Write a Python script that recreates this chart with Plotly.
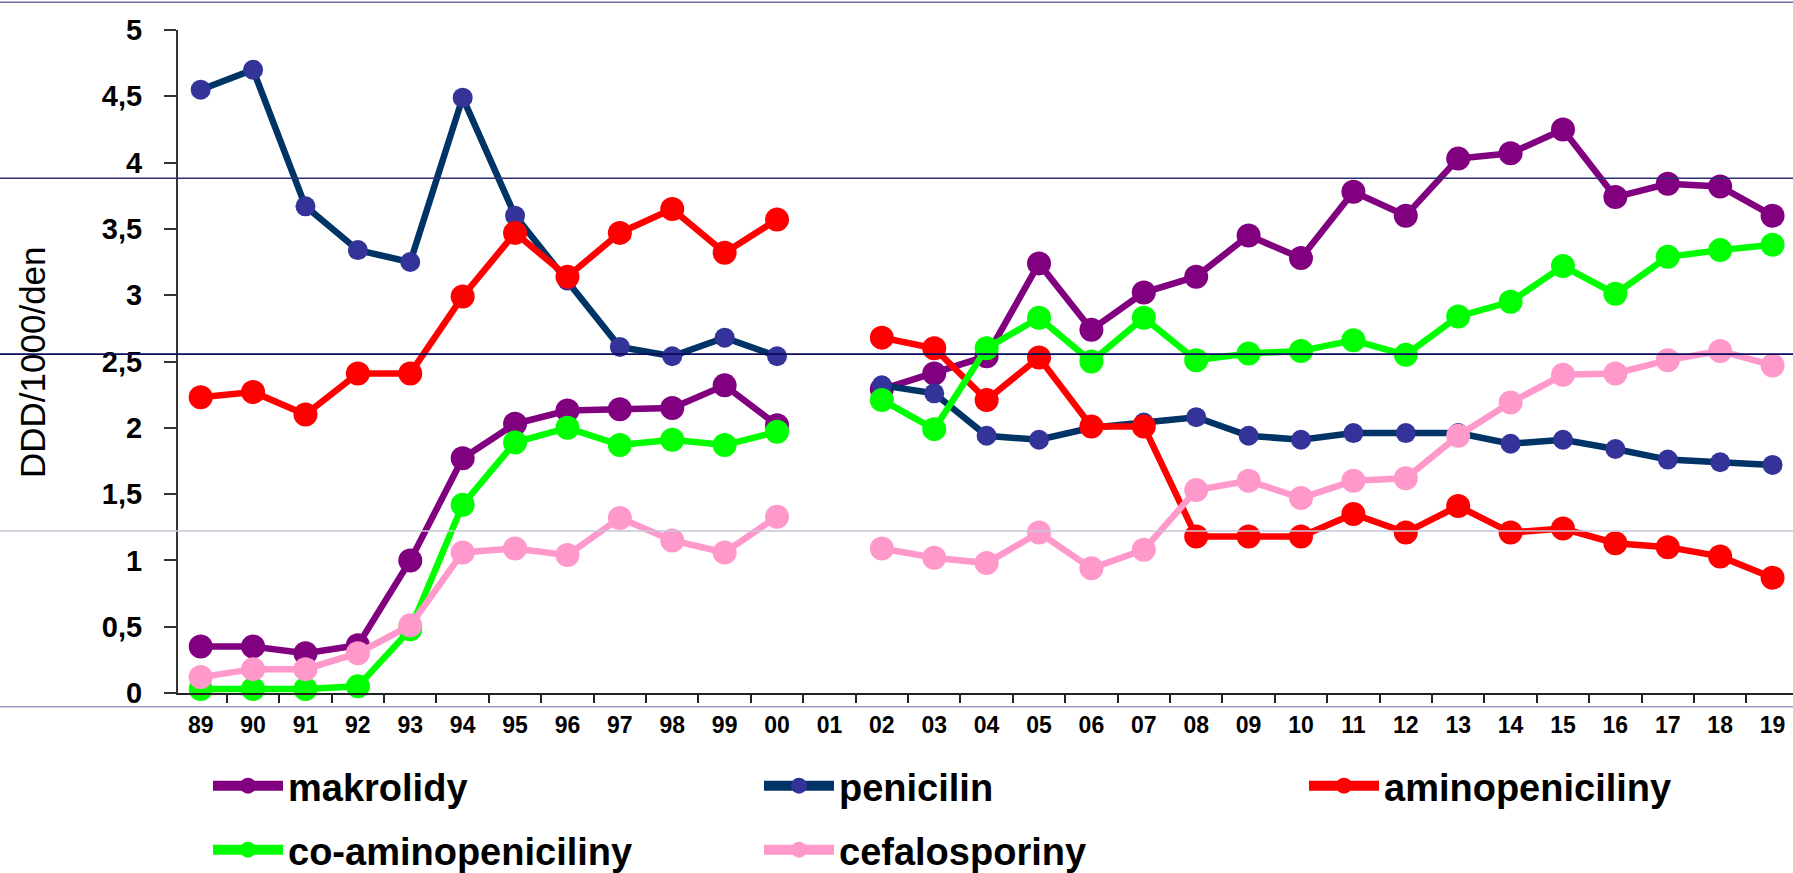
import plotly.graph_objects as go

# Years (two-digit labels); 2001 has no data
years = ["89", "90", "91", "92", "93", "94", "95", "96", "97", "98", "99", "00", "01",
         "02", "03", "04", "05", "06", "07", "08", "09", "10", "11", "12", "13", "14",
         "15", "16", "17", "18", "19"]

makrolidy = [0.35, 0.35, 0.30, 0.36, 1.00, 1.77, 2.03, 2.13, 2.14, 2.15, 2.32, 2.02, None,
             2.29, 2.41, 2.54, 3.24, 2.74, 3.02, 3.14, 3.45, 3.28, 3.78, 3.60, 4.03, 4.07,
             4.25, 3.74, 3.84, 3.82, 3.60]
penicilin = [4.55, 4.70, 3.67, 3.34, 3.25, 4.49, 3.60, 3.11, 2.61, 2.54, 2.68, 2.54, None,
             2.32, 2.26, 1.94, 1.91, 2.00, 2.04, 2.08, 1.94, 1.91, 1.96, 1.96, 1.96, 1.88,
             1.91, 1.84, 1.76, 1.74, 1.72]
aminopeniciliny = [2.23, 2.27, 2.10, 2.41, 2.41, 2.99, 3.47, 3.14, 3.47, 3.65, 3.32, 3.57, None,
                   2.68, 2.60, 2.21, 2.53, 2.01, 2.01, 1.18, 1.18, 1.18, 1.35, 1.21, 1.41, 1.21,
                   1.24, 1.13, 1.10, 1.03, 0.87]
co_aminopeniciliny = [0.03, 0.03, 0.03, 0.05, 0.48, 1.42, 1.89, 2.00, 1.87, 1.91, 1.87, 1.97, None,
                      2.21, 1.99, 2.60, 2.83, 2.50, 2.83, 2.51, 2.56, 2.58, 2.66, 2.55, 2.84, 2.95,
                      3.22, 3.01, 3.29, 3.34, 3.38]
cefalosporiny = [0.12, 0.18, 0.18, 0.30, 0.51, 1.06, 1.09, 1.04, 1.32, 1.15, 1.06, 1.33, None,
                 1.09, 1.02, 0.98, 1.21, 0.94, 1.08, 1.53, 1.60, 1.47, 1.60, 1.62, 1.94, 2.19,
                 2.40, 2.41, 2.51, 2.58, 2.47]

W, H = 1793, 873
ML, MR, MT, MB = 178, 0, 30, 180
FONT = "Arial, Liberation Sans, sans-serif"

series = [
    # name, values, line colour, marker colour, marker size, legend box
    ("makrolidy", makrolidy, "#800080", "#800080", 24, "legend"),
    ("penicilin", penicilin, "#003366", "#333399", 20, "legend"),
    ("aminopeniciliny", aminopeniciliny, "#FF0000", "#FF0000", 24, "legend3"),
    ("co-aminopeniciliny", co_aminopeniciliny, "#00FF00", "#00FF00", 24, "legend2"),
    ("cefalosporiny", cefalosporiny, "#FF99CC", "#FF99CC", 24, "legend2"),
]

fig = go.Figure()
for name, vals, lc, mc, ms, leg in series:
    fig.add_trace(go.Scatter(
        x=years, y=vals, name=name, mode="lines+markers",
        line=dict(color=lc, width=6.5),
        marker=dict(color=mc, size=ms, line=dict(width=0)),
        cliponaxis=False, showlegend=False, legendgroup=name,
    ))
    # empty trace carrying the heavier legend key of each series
    fig.add_trace(go.Scatter(
        x=[None], y=[None], name=name, mode="lines+markers",
        line=dict(color=lc, width=10),
        marker=dict(color=mc, size=24, line=dict(width=0)),
        legend=leg, legendgroup=name, hoverinfo="skip",
    ))


def py(row):
    """Pixel row of the page -> paper y coordinate."""
    return (H - MB - row) / (H - MT - MB)


def px(col):
    """Pixel column of the page -> paper x coordinate."""
    return (col - ML) / (W - ML - MR)


def cy(row):
    """Pixel row of the page -> container y coordinate."""
    return 1 - row / H


# thin horizontal rules running across the whole slide
rules = [(2.3, "#6b6ba8", 1.6), (178.3, "#2e2e72", 1.6), (354.2, "#0a0a5c", 1.8),
         (531.0, "#c6c6da", 1.4), (706.7, "#9c9cc0", 1.6)]
for row, col, w in rules:
    fig.add_shape(type="line", xref="paper", yref="paper",
                  x0=px(0), x1=px(W), y0=py(row), y1=py(row),
                  line=dict(color=col, width=w), layer="above")

fig.add_annotation(text="DDD/1000/den", textangle=-90, showarrow=False,
                   xref="paper", yref="paper", x=px(32), y=py(362),
                   xanchor="center", yanchor="middle",
                   font=dict(family=FONT, size=35, color="black"))

legend_common = dict(
    orientation="h", xanchor="left", yanchor="middle", yref="container",
    font=dict(family=FONT, size=38, color="black", weight="bold"),
    itemwidth=70, entrywidth=466, entrywidthmode="pixels",
    bgcolor="rgba(0,0,0,0)", borderwidth=0, traceorder="normal",
)

fig.update_layout(
    width=W, height=H,
    margin=dict(l=ML, r=MR, t=MT, b=MB, autoexpand=False),
    paper_bgcolor="white", plot_bgcolor="white",
    separators=", ",
    showlegend=True,
    legend=dict(legend_common, x=px(208), y=cy(786)),
    legend3=dict(legend_common, x=px(208 + 2 * 548), y=cy(786), entrywidth=0),
    legend2=dict(legend_common, x=px(208), y=cy(850)),
    xaxis=dict(
        type="category", categoryorder="array", categoryarray=years,
        range=[-0.433, 30.39], showgrid=False, zeroline=False,
        showline=True, linecolor="#222222", linewidth=2,
        ticks="outside", tickson="boundaries", ticklen=8, tickwidth=2, tickcolor="#222222",
        tickfont=dict(family=FONT, size=23, color="black", weight="bold"),
        ticklabelstandoff=10,
    ),
    yaxis=dict(
        range=[0, 5], dtick=0.5, tick0=0, showgrid=False, zeroline=False,
        showline=True, linecolor="#333333", linewidth=2,
        ticks="outside", ticklen=12, tickwidth=2, tickcolor="#333333",
        tickfont=dict(family=FONT, size=29, color="black", weight="bold"),
        ticklabelstandoff=16,
    ),
)

fig.write_html("out.html")
